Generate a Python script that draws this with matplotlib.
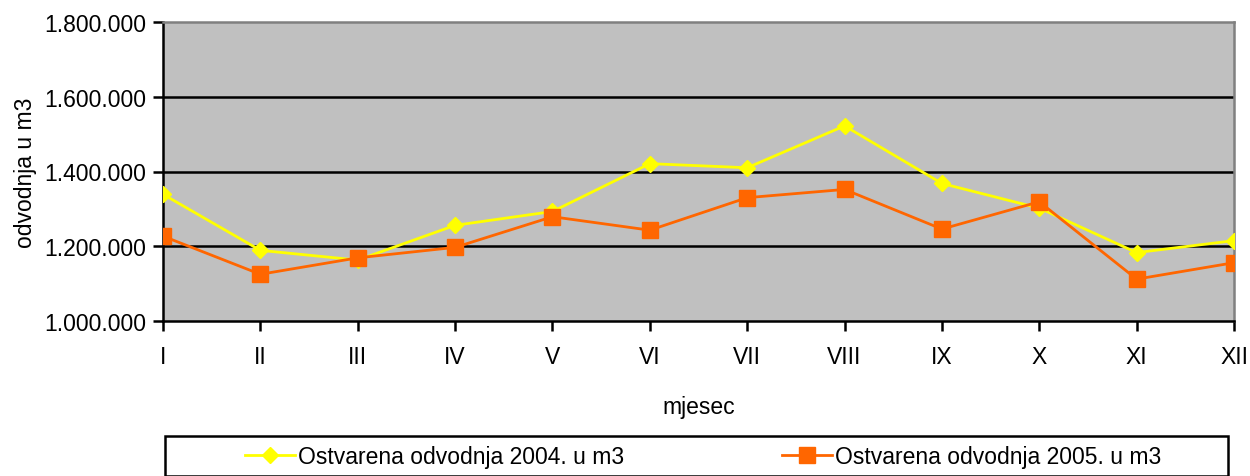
import matplotlib.pyplot as plt
import numpy as np
from matplotlib.patches import Rectangle
from matplotlib.ticker import FuncFormatter

plt.rcParams['font.family'] = ['Liberation Sans', 'DejaVu Sans']

# podaci (ocitano s grafikona)
mjeseci = ['I', 'II', 'III', 'IV', 'V', 'VI', 'VII', 'VIII', 'IX', 'X', 'XI', 'XII']
odvodnja_2004 = [1339000, 1189000, 1163000, 1256000, 1293000, 1421000,
                 1410000, 1522000, 1368000, 1302000, 1183000, 1215000]
odvodnja_2005 = [1227000, 1125000, 1169000, 1197000, 1279000, 1243000,
                 1330000, 1352000, 1246000, 1319000, 1112000, 1156000]
y_ticks = [1000000, 1200000, 1400000, 1600000, 1800000]

W, H = 1250, 477
fs = 16.5
fig = plt.figure(figsize=(W / 100, H / 100), dpi=100)
ax = fig.add_axes([163 / W, 1 - 322 / H, (1234 - 163) / W, (322 - 23) / H])
ax.set_facecolor('#C0C0C0')

x = np.arange(len(mjeseci))
l1, = ax.plot(x, odvodnja_2004, color='#FFFF00', lw=2.0, marker='D', ms=8.5,
              label='Ostvarena odvodnja 2004. u m3', zorder=3)
l2, = ax.plot(x, odvodnja_2005, color='#FF6600', lw=2.0, marker='s', ms=11,
              label='Ostvarena odvodnja 2005. u m3', zorder=4)

ax.set_xlim(0, len(mjeseci) - 1)
ax.set_ylim(y_ticks[0], y_ticks[-1])
ax.set_xticks(x)
ax.set_xticklabels(mjeseci)
ax.set_yticks(y_ticks)
ax.yaxis.set_major_formatter(FuncFormatter(lambda v, p: f'{int(v):,}'.replace(',', '.')))
for v in y_ticks[1:-1]:
    ax.axhline(v, color='black', lw=1.8, zorder=1)

ax.tick_params(axis='both', labelsize=fs, width=1.8, length=7, color='black')
ax.tick_params(axis='x', pad=10)
ax.tick_params(axis='y', pad=5)
ax.spines['left'].set_linewidth(1.8)
ax.spines['bottom'].set_linewidth(1.8)
ax.spines['top'].set_color('#808080')
ax.spines['right'].set_color('#808080')
ax.spines['top'].set_linewidth(1.8)
ax.spines['right'].set_linewidth(1.8)

ax.set_xlabel('mjesec', fontsize=fs, labelpad=20)
ax.set_ylabel('odvodnja u m3', fontsize=fs, labelpad=5)

# okvir legende
fig.patches.append(Rectangle((165 / W, 0), (1228 - 165) / W, 1 - 437 / H,
                             transform=fig.transFigure, fill=False,
                             edgecolor='black', lw=1.8))
ly = 1 - 458 / H
fig.legend(handles=[l1], loc='center left', bbox_to_anchor=(245 / W, ly),
           frameon=False, fontsize=fs, handlelength=2.2, handletextpad=0.1,
           borderpad=0, borderaxespad=0)
fig.legend(handles=[l2], loc='center left', bbox_to_anchor=(782 / W, ly),
           frameon=False, fontsize=fs, handlelength=2.2, handletextpad=0.1,
           borderpad=0, borderaxespad=0)

fig.savefig('out.png', dpi=100)
